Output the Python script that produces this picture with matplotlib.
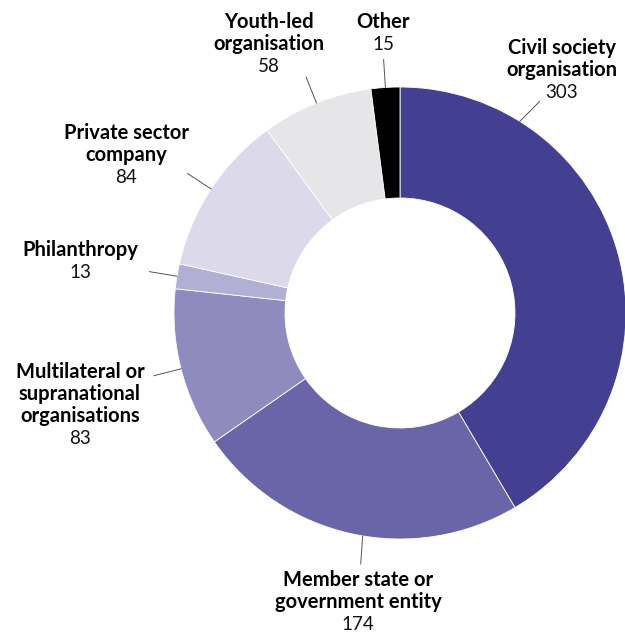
import numpy as np
import matplotlib
matplotlib.use("Agg")
import matplotlib.pyplot as plt

# data, in drawing order (clockwise from 12 o'clock)
categories = [
    "Civil society\norganisation",
    "Member state or\ngovernment entity",
    "Multilateral or\nsupranational\norganisations",
    "Philanthropy",
    "Private sector\ncompany",
    "Youth-led\norganisation",
    "Other",
]
counts = [303, 174, 83, 13, 84, 58, 15]
colors = ["#433f91", "#6a64a8", "#8f8bbf", "#b2afd5", "#dcd9eb", "#e6e6e8", "#000000"]

# label placement in pixels (x centre, y of first line from top)
label_x = [562, 358, 80, 80, 126, 269, 383]
label_y = [48, 580, 372, 250, 133, 22, 22]

W, H = 625, 633
CX, CY = 400, 313
R_OUT, R_IN = 226, 115
LEAD = 28
LINE_H = 22

plt.rcParams["font.family"] = ["Lato", "DejaVu Sans"]

fig = plt.figure(figsize=(W / 100, H / 100), dpi=100)
ax = fig.add_axes([0, 0, 1, 1])

ax.pie(counts, colors=colors, startangle=90, counterclock=False,
       radius=R_OUT, center=(CX, H - CY),
       wedgeprops=dict(width=R_OUT - R_IN, edgecolor="white", linewidth=0.6))

# leader lines: mostly at slice midpoints, a couple nudged toward their labels
total = sum(counts)
cum = np.cumsum([0] + counts)
angles = [(cum[i] + counts[i] / 2) / total * 360 for i in range(len(counts))]
angles[0] = 32
angles[1] = 189.5
for i, a in enumerate(angles):
    t = np.deg2rad(a)
    dx, dy = np.sin(t), np.cos(t)
    x0, y0 = CX + R_OUT * dx, H - CY + R_OUT * dy
    if i == 0:
        x1, y1 = x0 + 20, y0 + 20
    elif i == 1:
        x1, y1 = x0 - 2, y0 - 28
    else:
        x1, y1 = x0 + LEAD * dx, y0 + LEAD * dy
    ax.plot([x0, x1], [y0, y1], color="#555555", linewidth=0.7)

for name, n, x, y in zip(categories, counts, label_x, label_y):
    lines = name.split("\n")
    for k, line in enumerate(lines):
        ax.text(x, H - (y + k * LINE_H), line, ha="center", va="center",
                fontsize=14.5, fontweight="bold", color="black")
    ax.text(x, H - (y + len(lines) * LINE_H + 0.5), str(n), ha="center", va="center",
            fontsize=13.5, fontweight="normal", color="#111111")

ax.set_xlim(0, W)
ax.set_ylim(0, H)
ax.set_aspect("equal")
ax.axis("off")

fig.savefig("out.png", dpi=100)
